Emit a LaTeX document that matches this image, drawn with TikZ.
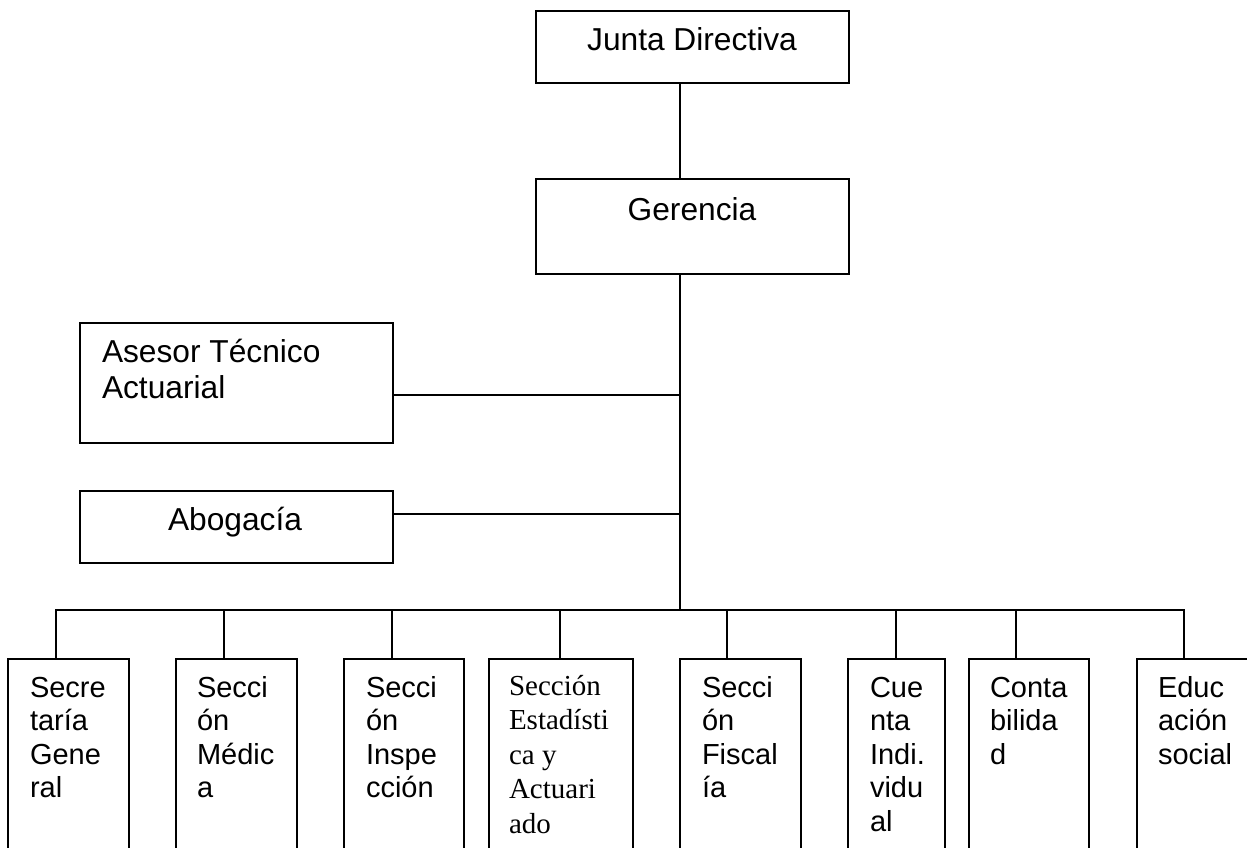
\documentclass[tikz,border=0pt]{standalone}
\usepackage{fontspec}
\setmainfont{Liberation Sans}
\newfontfamily\timesf{Liberation Serif}
\newcommand{\btxt}[1]{\parbox[t]{150pt}{\fontsize{29}{33.5}\selectfont #1}}
\newcommand{\bttxt}[1]{\parbox[t]{150pt}{\timesf\fontsize{29}{34.5}\selectfont #1}}
\newcommand{\toptxt}[1]{\parbox[t]{300pt}{\fontsize{31.7}{36}\selectfont #1}}
\begin{document}
\begin{tikzpicture}[x=1pt,y=-1pt,line width=2pt,
  box/.style={draw,line width=2pt,rectangle,inner sep=0pt,anchor=north west},
  lbl/.style={inner sep=0pt,anchor=base west},
  clbl/.style={inner sep=0pt,anchor=base,font=\fontsize{31.7}{36}\selectfont}]
\useasboundingbox (0,0) rectangle (1247,848);
\clip (0,0) rectangle (1247,848);
% top boxes
\node[box,minimum width=313pt,minimum height=72pt] (junta) at (535,10) {};
\node[clbl] (juntaT) at (692,51) {Junta Directiva};
\node[box,minimum width=313pt,minimum height=95pt] (ger) at (535,178) {};
\node[clbl] (gerT) at (692,220) {Gerencia};
\node[box,minimum width=313pt,minimum height=120pt] (ase) at (79,322) {};
\node[lbl] (aseT) at (101,362) {\toptxt{Asesor Técnico\\Actuarial}};
\node[box,minimum width=313pt,minimum height=72pt] (abo) at (79,490) {};
\node[clbl] (aboT) at (235,530) {Abogacía};
% bottom boxes
\node[box,minimum width=121pt,minimum height=230pt] (b1) at (7,658) {};
\node[box,minimum width=121pt,minimum height=230pt] (b2) at (175,658) {};
\node[box,minimum width=120pt,minimum height=230pt] (b3) at (343,658) {};
\node[box,minimum width=144pt,minimum height=230pt] (b4) at (488,658) {};
\node[box,minimum width=121pt,minimum height=230pt] (b5) at (679,658) {};
\node[box,minimum width=97pt,minimum height=230pt] (b6) at (847,658) {};
\node[box,minimum width=120pt,minimum height=230pt] (b7) at (968,658) {};
\node[box,minimum width=120pt,minimum height=230pt] (b8) at (1136,658) {};
\node[lbl] (t1) at (29,697) {\btxt{Secre\\taría\\Gene\\ral}};
\node[lbl] (t2) at (196,697) {\btxt{Secci\\ón\\Médic\\a}};
\node[lbl] (t3) at (365,697) {\btxt{Secci\\ón\\Inspe\\cción}};
\node[lbl] (t4) at (508,695) {\bttxt{Sección\\Estadísti\\ca y\\Actuari\\ado}};
\node[lbl] (t5) at (701,697) {\btxt{Secci\\ón\\Fiscal\\ía}};
\node[lbl] (t6) at (869,697) {\btxt{Cue\\nta\\Indi.\\vidu\\al}};
\node[lbl] (t7) at (989,697) {\btxt{Conta\\bilida\\d}};
\node[lbl] (t8) at (1157,697) {\btxt{Educ\\ación\\social}};
% connectors
\coordinate (bus) at (680,610);
\coordinate (c1) at (56,610);
\coordinate (c2) at (224,610);
\coordinate (c3) at (392,610);
\coordinate (c4) at (560,610);
\coordinate (c5) at (727,610);
\coordinate (c6) at (896,610);
\coordinate (c7) at (1016,610);
\coordinate (c8) at (1184,610);
\draw (junta.south -| bus) -- (ger.north -| bus);
\draw (ger.south -| bus) -- (bus);
\draw ([yshift=-12pt]ase.east) -- ([yshift=-12pt]ase.east -| bus);
\draw ([yshift=13pt]abo.east) -- ([yshift=13pt]abo.east -| bus);
\draw[line cap=rect] (c1) -- (c8);
\foreach \i in {1,...,8} {\draw (c\i) -- (c\i |- b\i.north);}
\end{tikzpicture}
\end{document}
